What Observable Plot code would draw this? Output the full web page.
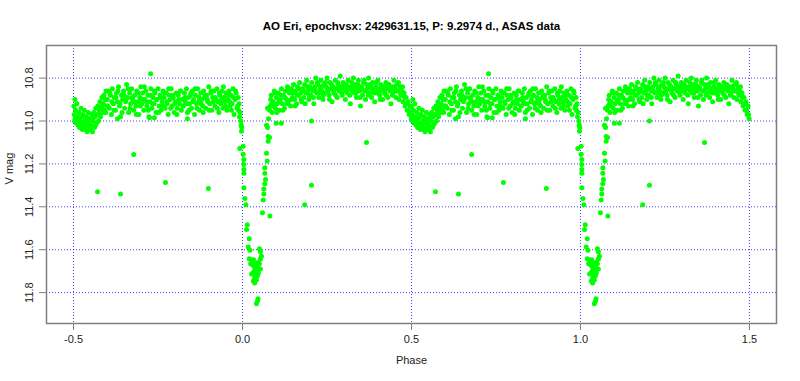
<!DOCTYPE html>
<html><head><meta charset="utf-8">
<script src="https://cdn.jsdelivr.net/npm/d3@7"></script>
<script src="https://cdn.jsdelivr.net/npm/@observablehq/plot@0.6"></script>
<style>body{margin:0;background:#fff}</style>
</head><body><div id="chart"></div>
<script>
const titleText = "AO Eri, epochvsx: 2429631.15, P: 9.2974 d., ASAS data";
const xLabel = "Phase";
const yLabel = "V mag";
const xTicks = [-0.5, 0, 0.5, 1, 1.5];
const xTickLabels = ["-0.5", "0.0", "0.5", "1.0", "1.5"];
const yTicks = [10.8, 11.0, 11.2, 11.4, 11.6, 11.8];
const yTickLabels = ["10.8", "11.0", "11.2", "11.4", "11.6", "11.8"];

// [phase, V mag] for one cycle (phase -0.5 .. 0.5); the plot repeats it at phase + 1
const secondaryDip = [
[-0.499,10.93],[-0.498,10.97],[-0.497,11.00],[-0.496,10.90],[-0.494,10.95],[-0.492,11.01],[-0.490,10.92],[-0.488,10.98],
[-0.486,11.02],[-0.484,10.96],[-0.482,11.03],[-0.480,10.99],[-0.478,10.94],[-0.476,11.01],[-0.474,11.04],[-0.472,10.97],
[-0.470,11.02],[-0.468,10.95],[-0.466,11.00],[-0.464,11.03],[-0.462,10.98],[-0.460,11.05],[-0.458,11.01],[-0.456,10.96],
[-0.454,11.03],[-0.452,10.99],[-0.450,11.04],[-0.448,11.02],[-0.446,10.97],[-0.444,11.05],[-0.442,11.00],[-0.440,10.96],
[-0.438,11.03],[-0.436,10.98],[-0.434,10.94],[-0.432,11.01],[-0.430,10.97],[-0.428,10.93],[-0.426,11.00],[-0.424,10.95],
[-0.422,10.91],[-0.420,10.98],[-0.418,10.94],[-0.416,10.89],[-0.414,10.96],[-0.412,10.92],[-0.410,10.88],[-0.408,10.95],
[-0.406,10.90],[-0.404,10.86],[-0.402,10.93],[-0.495,10.99],[-0.485,11.00],[-0.475,10.98],[-0.465,11.04],[-0.455,11.00],
[-0.445,10.99],[-0.435,11.02],[-0.425,10.97],[-0.415,10.93],[-0.405,10.96]
];
const maxA = [
[-0.400,10.90],[-0.397,10.86],[-0.394,10.94],[-0.391,10.88],[-0.388,10.97],[-0.385,10.85],[-0.382,10.92],[-0.379,10.89],
[-0.376,10.95],[-0.373,10.87],[-0.370,10.91],[-0.367,10.84],[-0.364,10.93],[-0.361,10.98],[-0.358,10.88],[-0.355,10.90],
[-0.352,10.86],[-0.349,10.94],[-0.346,10.91],[-0.343,10.83],[-0.340,10.89],[-0.337,10.96],[-0.334,10.87],[-0.331,10.92],
[-0.328,10.85],[-0.325,10.90],[-0.322,10.95],[-0.319,10.88],[-0.316,10.93],[-0.313,10.86],[-0.310,10.91],[-0.307,10.97],
[-0.304,10.89],[-0.301,10.84],[-0.298,10.92],[-0.295,10.87],[-0.292,10.95],[-0.289,10.90],[-0.286,10.86],[-0.283,10.93],
[-0.280,10.88],[-0.277,10.98],[-0.274,10.91],[-0.271,10.85],[-0.268,10.94],[-0.265,10.89],[-0.262,10.92],[-0.259,10.87],
[-0.256,10.96],[-0.253,10.90],[-0.250,10.85],[-0.247,10.93],[-0.244,10.88],[-0.241,10.95],[-0.238,10.91],[-0.235,10.86],
[-0.232,10.89],[-0.229,10.94],[-0.226,10.87],[-0.223,10.92],[-0.220,10.97],[-0.217,10.88],[-0.214,10.90],[-0.211,10.85],
[-0.208,10.93],[-0.205,10.89],[-0.202,10.96],[-0.199,10.91],[-0.196,10.87],[-0.193,10.94],[-0.190,10.88],[-0.187,10.92],
[-0.184,10.86],[-0.181,10.95],[-0.178,10.90],[-0.175,10.93],[-0.172,10.87],[-0.169,10.91],[-0.166,10.85],[-0.163,10.96],
[-0.160,10.89],[-0.157,10.92],[-0.154,10.88],[-0.151,10.94],[-0.148,10.86],[-0.145,10.90],[-0.142,10.97],[-0.139,10.88],
[-0.136,10.92],[-0.133,10.85],[-0.130,10.91],[-0.127,10.95],[-0.124,10.87],[-0.121,10.90],[-0.118,10.93],[-0.115,10.86],
[-0.112,10.89],[-0.109,10.94],[-0.106,10.88],[-0.103,10.91],[-0.100,10.84],[-0.097,10.92],[-0.094,10.87],[-0.091,10.95],
[-0.088,10.89],[-0.085,10.86],[-0.082,10.93],[-0.079,10.90],[-0.076,10.85],[-0.073,10.91],[-0.070,10.96],[-0.067,10.88],
[-0.064,10.92],[-0.061,10.86],[-0.058,10.94],[-0.055,10.89],[-0.052,10.91],[-0.049,10.87],[-0.046,10.95],[-0.043,10.90],
[-0.040,10.86],[-0.037,10.93],[-0.034,10.88],[-0.031,10.92],[-0.028,10.85],[-0.025,10.97],[-0.022,10.90],[-0.019,10.87],
[-0.016,10.94],[-0.013,10.89],[-0.010,10.92],
[-0.3985,10.93],[-0.3925,10.87],[-0.3865,10.91],[-0.3805,10.95],[-0.3745,10.89],[-0.3685,10.86],[-0.3625,10.92],[-0.3565,10.96],
[-0.3505,10.88],[-0.3445,10.90],[-0.3385,10.85],[-0.3325,10.94],[-0.3265,10.89],[-0.3205,10.91],[-0.3145,10.97],[-0.3085,10.87],
[-0.3025,10.93],[-0.2965,10.90],[-0.2905,10.84],[-0.2845,10.91],[-0.2785,10.95],[-0.2725,10.88],[-0.2665,10.92],[-0.2605,10.86],
[-0.2545,10.90],[-0.2485,10.96],[-0.2425,10.89],[-0.2365,10.93],[-0.2305,10.87],[-0.2245,10.91],[-0.2185,10.85],[-0.2125,10.94],
[-0.2065,10.88],[-0.2005,10.92],[-0.1945,10.97],[-0.1885,10.90],[-0.1825,10.86],[-0.1765,10.93],[-0.1705,10.89],[-0.1645,10.92],
[-0.1585,10.95],[-0.1525,10.87],[-0.1465,10.91],[-0.1405,10.85],[-0.1345,10.94],[-0.1285,10.89],[-0.1225,10.92],[-0.1165,10.96],
[-0.1105,10.88],[-0.1045,10.90],[-0.0985,10.95],[-0.0925,10.86],[-0.0865,10.91],[-0.0805,10.89],[-0.0745,10.94],[-0.0685,10.87],
[-0.0625,10.90],[-0.0565,10.84],[-0.0505,10.93],[-0.0445,10.88],[-0.0385,10.91],[-0.0325,10.95],[-0.0265,10.89],[-0.0205,10.86],
[-0.0145,10.93],[-0.370,10.99],[-0.275,10.985],[-0.261,10.985],[-0.163,10.99]
];
const primaryEclipse = [
[-0.012,10.95],[-0.009,10.98],[-0.007,10.96],[-0.005,11.00],[-0.004,11.02],[-0.003,11.048],[-0.002,11.03],[-0.008,11.128],
[0.002,11.118],[0.002,11.155],[0.004,11.179],[0.004,11.203],[0.004,11.226],[0.004,11.244],[0.004,11.311],[0.007,11.361],
[0.010,11.390],[0.014,11.484],[0.012,11.506],[0.020,11.549],[0.017,11.587],[0.022,11.602],[0.020,11.642],[0.027,11.648],
[0.030,11.671],[0.036,11.685],[0.041,11.695],[0.033,11.704],[0.038,11.713],[0.044,11.723],[0.036,11.732],[0.032,11.746],
[0.041,11.741],[0.047,11.709],[0.044,11.680],[0.024,11.665],[0.033,11.647],[0.038,11.666],[0.047,11.657],[0.027,11.713],
[0.036,11.755],[0.050,11.596],[0.053,11.610],[0.056,11.630],[0.053,11.643],[0.053,11.690],[0.050,11.666],
[0.046,11.829],[0.041,11.852],[0.044,11.840],
[0.059,11.428],[0.081,11.443],[0.061,11.368],[0.063,11.340],[0.063,11.317],[0.066,11.293],[0.068,11.273],[0.066,11.243],
[0.066,11.218],[0.073,11.187],[0.071,11.150],[0.076,11.094],[0.076,11.072],[0.080,11.077],[0.074,11.030],[0.071,11.020],
[0.077,10.990],[0.080,10.950],[0.074,10.940],[0.086,10.920]
];
const maxB = [
[0.082,10.93],[0.085,10.88],[0.088,10.96],[0.091,10.91],[0.094,10.86],[0.097,10.94],[0.100,10.89],[0.103,10.92],
[0.106,10.87],[0.109,10.95],[0.112,10.90],[0.115,10.85],[0.118,10.92],[0.121,10.88],[0.124,10.94],[0.127,10.86],
[0.130,10.90],[0.133,10.84],[0.136,10.91],[0.139,10.87],[0.142,10.93],[0.145,10.85],[0.148,10.89],[0.151,10.83],
[0.154,10.90],[0.157,10.86],[0.160,10.92],[0.163,10.84],[0.166,10.88],[0.169,10.82],[0.172,10.87],[0.175,10.91],
[0.178,10.85],[0.181,10.89],[0.184,10.83],[0.187,10.87],[0.190,10.81],[0.193,10.86],[0.196,10.90],[0.199,10.84],
[0.202,10.88],[0.205,10.82],[0.208,10.86],[0.211,10.92],[0.214,10.84],[0.217,10.80],[0.220,10.87],[0.223,10.83],
[0.226,10.89],[0.229,10.85],[0.232,10.81],[0.235,10.86],[0.238,10.90],[0.241,10.83],[0.244,10.87],[0.247,10.84],
[0.250,10.80],[0.253,10.86],[0.256,10.88],[0.259,10.82],[0.262,10.85],[0.265,10.91],[0.268,10.84],[0.271,10.87],
[0.274,10.81],[0.277,10.85],[0.280,10.89],[0.283,10.83],[0.286,10.86],[0.289,10.79],[0.292,10.84],[0.295,10.88],
[0.298,10.82],[0.301,10.85],[0.304,10.90],[0.307,10.83],[0.310,10.87],[0.313,10.81],[0.316,10.85],[0.319,10.92],
[0.322,10.84],[0.325,10.86],[0.328,10.80],[0.331,10.87],[0.334,10.83],[0.337,10.89],[0.340,10.85],[0.343,10.81],
[0.346,10.86],[0.349,10.93],[0.352,10.84],[0.355,10.88],[0.358,10.82],[0.361,10.86],[0.364,10.90],[0.367,10.83],
[0.370,10.85],[0.373,10.80],[0.376,10.87],[0.379,10.84],[0.382,10.89],[0.385,10.82],[0.388,10.86],[0.391,10.91],
[0.394,10.84],[0.397,10.87],[0.400,10.81],[0.403,10.85],[0.406,10.88],[0.409,10.83],[0.412,10.86],[0.415,10.90],
[0.418,10.84],[0.421,10.87],[0.424,10.82],[0.427,10.85],[0.430,10.89],[0.433,10.83],[0.436,10.86],[0.439,10.92],
[0.442,10.84],[0.445,10.87],[0.448,10.81],[0.451,10.85],[0.454,10.89],[0.457,10.83],[0.460,10.86],[0.463,10.90],
[0.466,10.84],[0.469,10.88],[0.472,10.86],[0.475,10.91],[0.478,10.87],[0.481,10.93],[0.484,10.89],[0.487,10.95],
[0.490,10.91],[0.493,10.97],[0.496,10.93],[0.499,10.99],
[0.0835,10.90],[0.0895,10.93],[0.0955,10.87],[0.1015,10.96],[0.1075,10.91],[0.1135,10.88],[0.1195,10.95],[0.1255,10.89],
[0.1315,10.92],[0.1375,10.86],[0.1435,10.90],[0.1495,10.87],[0.1555,10.93],[0.1615,10.88],[0.1675,10.85],[0.1735,10.90],
[0.1795,10.86],[0.1855,10.92],[0.1915,10.84],[0.1975,10.88],[0.2035,10.85],[0.2095,10.89],[0.2155,10.86],[0.2215,10.82],
[0.2275,10.87],[0.2335,10.84],[0.2395,10.88],[0.2455,10.82],[0.2515,10.85],[0.2575,10.90],[0.2635,10.83],[0.2695,10.86],
[0.2755,10.88],[0.2815,10.82],[0.2875,10.85],[0.2935,10.87],[0.2995,10.83],[0.3055,10.86],[0.3115,10.84],[0.3175,10.88],
[0.3235,10.82],[0.3295,10.85],[0.3355,10.87],[0.3415,10.83],[0.3475,10.89],[0.3535,10.85],[0.3595,10.81],[0.3655,10.86],
[0.3715,10.88],[0.3775,10.83],[0.3835,10.85],[0.3895,10.87],[0.3955,10.82],[0.4015,10.86],[0.4075,10.90],[0.4135,10.84],
[0.4195,10.86],[0.4255,10.88],[0.4315,10.83],[0.4375,10.85],[0.4435,10.88],[0.4495,10.84],[0.4555,10.86],[0.4615,10.82],
[0.4675,10.87],[0.4735,10.84],[0.4795,10.89],[0.4855,10.92],[0.4915,10.95],[0.4975,10.97]
];
const outliers = [
[-0.429,11.33],[-0.361,11.34],[-0.322,11.156],[-0.272,10.78],[-0.228,11.287],[-0.101,11.315],
[0.184,11.39],[0.204,11.30],[0.204,11.00],[0.367,11.10],[0.100,11.01],[0.115,11.01]
];

const cycle = [...secondaryDip, ...maxA, ...primaryEclipse, ...maxB, ...outliers];
const points = cycle.concat(cycle.map(([p, m]) => [p + 1, m]));

const fmt = (labels, ticks) => d => labels[ticks.findIndex(t => Math.abs(t - d) < 1e-9)];

const chart = Plot.plot({
  width: 800, height: 381,
  marginLeft: 46, marginRight: 24, marginTop: 45, marginBottom: 58,
  style: {fontFamily: "'Liberation Sans', Arial, sans-serif", fontSize: "11px", background: "#fff", color: "#000"},
  x: {domain: [-0.58, 1.58], axis: null},
  y: {domain: [11.944, 10.648], axis: null},
  marks: [
    Plot.ruleX(xTicks, {x: d => d, stroke: "#0000ff", strokeDasharray: "1,2", strokeOpacity: 0.75}),
    Plot.ruleY(yTicks, {y: d => d, stroke: "#0000ff", strokeDasharray: "1,2", strokeOpacity: 0.75}),
    Plot.dot(points, {x: d => d[0], y: d => d[1], r: 2.5, fill: "#00ff00", stroke: "none"}),
    Plot.frame({stroke: "#7f7f7f", strokeWidth: 1.5}),
    Plot.axisX({ticks: xTicks, tickSize: 7, tickPadding: 5, tickFormat: fmt(xTickLabels, xTicks), stroke: "#7f7f7f", fill: "#222", label: null, fontSize: 11}),
    Plot.axisY({ticks: yTicks, tickSize: 7, tickFormat: () => "", stroke: "#7f7f7f", label: null}),
    Plot.text(yTicks, {y: d => d, frameAnchor: "left", dx: -17, rotate: -90, text: fmt(yTickLabels, yTicks), fill: "#222", fontSize: 11, textAnchor: "middle"}),
    Plot.text([xLabel], {frameAnchor: "bottom", dy: 40, text: d => d, fill: "#222", fontSize: 11}),
    Plot.text([yLabel], {frameAnchor: "left", dx: -37, rotate: -90, text: d => d, fill: "#222", fontSize: 11}),
    Plot.text([titleText], {frameAnchor: "top", dy: -24, text: d => d, fill: "#000", fontSize: 11.5, fontWeight: "bold"})
  ]
});
document.getElementById("chart").appendChild(chart);
</script>
</body></html>
